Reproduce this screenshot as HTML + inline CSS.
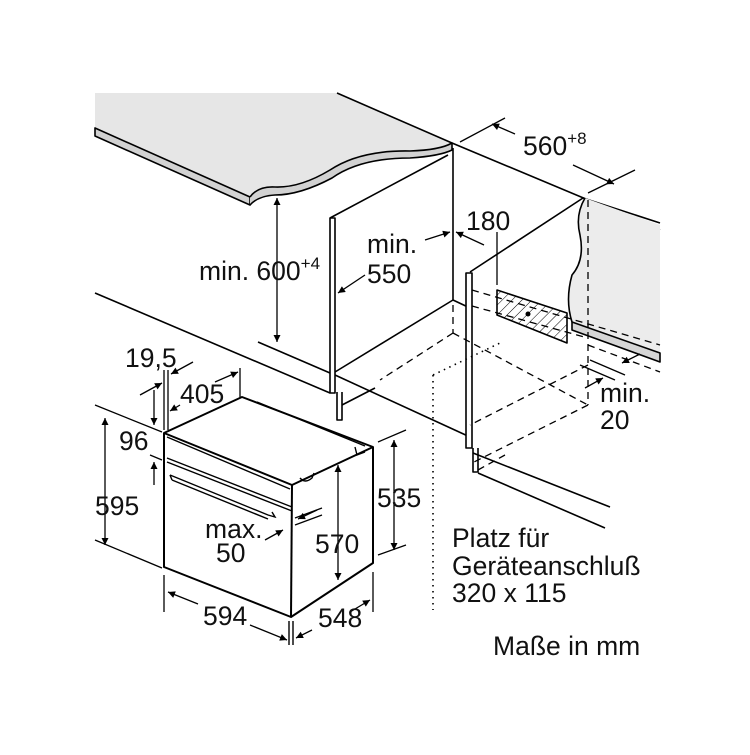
<!DOCTYPE html>
<html><head><meta charset="utf-8"><style>
html,body{margin:0;padding:0;background:#fff}
svg text{font-family:"Liberation Sans",sans-serif;font-size:26.5px;fill:#111}
</style></head><body>
<svg width="750" height="750" viewBox="0 0 750 750" xmlns="http://www.w3.org/2000/svg">
<defs>
<marker id="a" viewBox="0 0 10 10" refX="10" refY="5" markerWidth="10" markerHeight="7" orient="auto-start-reverse" markerUnits="userSpaceOnUse"><path d="M0,0 L10,5 L0,10 z" fill="#000"/></marker>
<pattern id="h" width="7" height="7" patternUnits="userSpaceOnUse" patternTransform="rotate(45)"><line x1="0" y1="0" x2="0" y2="7" stroke="#000" stroke-width="1"/></pattern>
</defs>
<g stroke="#000" stroke-width="1.6" fill="none" stroke-linejoin="round">
<path d="M95,93 L337,93 L452,143 Q440,150 410,151 Q360,150 330,170 Q300,190 270,187 Q255,188 250,197 L95,128 Z" fill="#e6e6e6" stroke="none"/>
<path d="M95,128 L95,136 L250,205 L250,197 Z" fill="#d2d2d2"/>
<path d="M250,197 Q258,186 275,187 Q300,188 330,170 Q360,150 410,151 Q440,150 452,143 L452,150 Q440,156 410,158 Q360,158 332,178 Q300,195 275,195 Q258,196 250,205" fill="#d2d2d2"/>
<path d="M337,93 L452,143 L660,230"/>
<line x1="453" y1="148" x2="453" y2="300"/>
<path d="M330,218 L448,155"/>
<rect x="330" y="218" width="5" height="175" fill="#fff"/>
<path d="M335,372 L453,300"/>
<path d="M335,375 L470,437"/>
<path d="M337,392 L337,420 L342,420 L342,392"/>
<path d="M342,405 L375,388"/>
<path d="M95,293 L330,393"/>
<path d="M258,342 L330,373"/>
<path d="M453,300 L470,308"/>
<path d="M470,272 L583,198 L660,223"/>
<rect x="466" y="273" width="6" height="175" fill="#fff"/>
<path d="M473,448 L473,472 L478,472 L478,448"/>
<path d="M473,453 L610,507"/>
<path d="M478,473 L605,528"/>
<path d="M585,198 Q575,215 580,235 Q585,260 572,275 Q565,300 572,322 L660,353 L660,225 Z" fill="#ececec" stroke="none"/>
<path d="M585,198 Q575,215 580,235 Q585,260 572,275 Q565,300 572,322"/>
<path d="M572,322 L572,330 L660,362 L660,353 Z" fill="#d6d6d6"/>
<path d="M497,290 L567,313 L567,343 L497,315 Z" fill="url(#h)"/>
<circle cx="528" cy="314" r="2.5" fill="#000" stroke="none"/>
<line x1="277" y1="198" x2="277" y2="342" marker-start="url(#a)" marker-end="url(#a)" stroke-width="1.3"/>
</g>
<g stroke="#000" stroke-width="1.3" fill="none" stroke-dasharray="7,5">
<line x1="588" y1="200" x2="588" y2="405"/>
<line x1="453" y1="305" x2="453" y2="333"/>
<path d="M472,290 L660,345"/>
<path d="M472,306 L588,338"/>
<path d="M453,333 L588,405"/>
<path d="M453,333 L380,380"/>
<path d="M588,365 L470,425"/>
<path d="M588,405 L472,463"/>
<path d="M588,345 L660,372"/>
<path d="M478,470 L505,455"/>
</g>
<g stroke="#000" stroke-width="1.6" fill="none" stroke-dasharray="1.5,4.5">
<line x1="433" y1="375" x2="433" y2="610"/>
<path d="M433,375 L500,343"/>
</g>
<g stroke="#000" stroke-width="2" fill="#fff" stroke-linejoin="round">
<path d="M164,433 L242,397 L373,447 L373,563 L291,617 L164,567 Z"/>
<path d="M164,433 L292,485 L373,447" fill="none"/>
<path d="M292,485 L291,617" fill="none"/>
</g>
<g stroke="#000" stroke-width="1.4" fill="none">
<path d="M167,437 L290,489"/>
<path d="M167,458 L292,507"/>
<path d="M167,462 L292,511"/>
<path d="M170,475 L268,515 L275,517 L272,512"/>
<path d="M172,480 L268,519"/>
<path d="M170,475 L172,480"/>
<path d="M257,402 L365,446"/>
<path d="M300,478 Q305,484 312,478 L314,473"/>
<path d="M355,447 L357,455 L365,452"/>
<line x1="289" y1="621" x2="289" y2="645"/><line x1="293" y1="621" x2="293" y2="645"/>
</g>
<g stroke="#000" stroke-width="1.3" fill="none">
<line x1="95" y1="405" x2="162" y2="432"/>
<line x1="95" y1="540" x2="162" y2="568"/>
<line x1="105" y1="418" x2="105" y2="545" marker-start="url(#a)" marker-end="url(#a)"/>
<line x1="150" y1="455" x2="162" y2="460"/>
<line x1="154" y1="390" x2="154" y2="425" marker-end="url(#a)"/>
<line x1="154" y1="485" x2="154" y2="462" marker-end="url(#a)"/>
<line x1="164" y1="370" x2="164" y2="430"/><line x1="168" y1="370" x2="168" y2="430"/>
<line x1="140" y1="395" x2="162" y2="383" marker-end="url(#a)"/>
<line x1="193" y1="362" x2="171" y2="374" marker-end="url(#a)"/>
<line x1="240" y1="368" x2="240" y2="398"/>
<line x1="215" y1="382" x2="238" y2="372" marker-end="url(#a)"/>
<line x1="180" y1="405" x2="170" y2="411" marker-end="url(#a)"/>
<line x1="164" y1="575" x2="164" y2="612"/>
<line x1="168" y1="592" x2="198" y2="604" marker-start="url(#a)"/>
<line x1="250" y1="625" x2="287" y2="640" marker-end="url(#a)"/>
<line x1="373" y1="572" x2="373" y2="612"/>
<line x1="296" y1="638" x2="312" y2="630" marker-start="url(#a)"/>
<line x1="350" y1="612" x2="370" y2="600" marker-end="url(#a)"/>
<line x1="338" y1="465" x2="338" y2="580" marker-start="url(#a)" marker-end="url(#a)"/>
<line x1="378" y1="442" x2="406" y2="430"/>
<line x1="378" y1="555" x2="406" y2="545"/>
<line x1="394" y1="440" x2="394" y2="550" marker-start="url(#a)" marker-end="url(#a)"/>
<line x1="295" y1="518" x2="322" y2="508"/>
<line x1="295" y1="525" x2="322" y2="515"/>
<line x1="317" y1="510" x2="298" y2="519" marker-end="url(#a)"/>
<line x1="265" y1="540" x2="283" y2="530" marker-end="url(#a)"/>
<line x1="425" y1="240" x2="450" y2="232" marker-end="url(#a)"/>
<line x1="365" y1="275" x2="338" y2="293" marker-end="url(#a)"/>
<line x1="456" y1="232" x2="484" y2="245" marker-start="url(#a)"/>
<line x1="497" y1="232" x2="497" y2="285"/>
<line x1="460" y1="142" x2="505" y2="118"/>
<line x1="515" y1="134" x2="492" y2="124" marker-end="url(#a)"/>
<line x1="573" y1="165" x2="614" y2="184" marker-end="url(#a)"/>
<line x1="588" y1="193" x2="635" y2="170"/>
<line x1="590" y1="360" x2="625" y2="375"/>
<line x1="580" y1="365" x2="615" y2="380"/>
<line x1="640" y1="354" x2="622" y2="363" marker-end="url(#a)"/>
<line x1="585" y1="388" x2="603" y2="378" marker-end="url(#a)"/>
</g>
<text x="523" y="155">560<tspan font-size="17" dy="-11">+8</tspan></text>
<text x="199" y="280">min. 600<tspan font-size="17" dy="-11">+4</tspan></text>
<text x="367" y="253">min.</text><text x="367" y="283">550</text>
<text x="466" y="230">180</text>
<text x="600" y="402">min.</text><text x="600" y="429">20</text>
<text x="125" y="367">19,5</text>
<text x="180" y="403">405</text>
<text x="119" y="450">96</text>
<text x="95" y="515">595</text>
<text x="205" y="538">max.</text><text x="216" y="562">50</text>
<text x="315" y="553">570</text>
<text x="377" y="507">535</text>
<text x="203" y="625">594</text>
<text x="318" y="627">548</text>
<text x="452" y="547">Platz für</text>
<text x="452" y="575">Geräteanschluß</text>
<text x="452" y="602">320 x 115</text>
<text x="493" y="655">Maße in mm</text>
</svg>
</body></html>
